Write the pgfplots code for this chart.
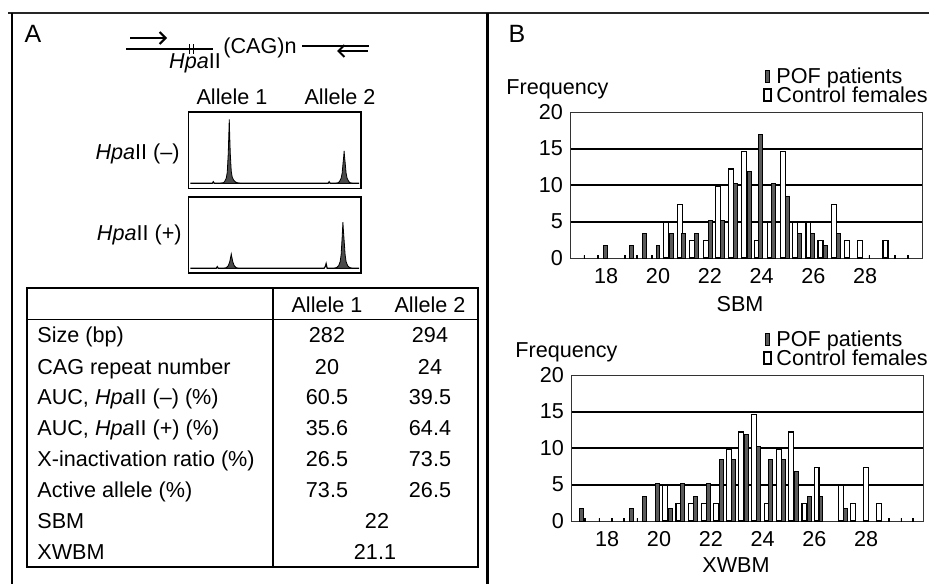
\documentclass[border=0pt]{standalone}
\usepackage{fontspec}
\setmainfont{Liberation Sans}
\usepackage{pgfplots}
\pgfplotsset{compat=1.18}
\usetikzlibrary{arrows.meta}
\definecolor{cBar}{HTML}{5A5A5A}
\definecolor{cPeak}{HTML}{4A4A4A}
\newcommand\fs{\fontsize{10.8}{12}\selectfont}

\tikzset{t/.style={font=\fs, inner sep=0pt}}
\pgfplotsset{
  histo/.style={scale only axis, width=176pt, height=73pt,
    xmin=16.6, xmax=30.2, ymin=0, ymax=20,
    xtick={18,20,...,28}, ytick={5,10,15},
    extra y ticks={0,20}, extra y tick style={grid=none},
    ymajorgrids, grid style={black, line width=1pt},
    major tick length=0pt, axis line style={black!80, line width=0.5pt},
    tick label style={font=\fs}, /pgf/number format/assume math mode=true,
    xticklabel style={yshift=-1.5pt}},
  ctrl/.style={ybar, bar shift=0pt, bar width=0.19, fill=white, draw=black, line width=0.6pt},
  pof/.style={ybar, bar shift=0pt, bar width=0.15, fill=cBar, draw=black, line width=0.5pt},
  stub/.style={ybar, bar shift=0pt, bar width=0.03, fill=black, draw=black, line width=0.3pt},
  trace/.style={scale only axis, width=86.4pt, height=38pt,
    xmin=0, xmax=173, ymin=0, ymax=76, ticks=none, axis line style={line width=0.8pt}},
}

\begin{document}
\begin{tikzpicture}[x=0.5pt, y=-0.5pt]
\useasboundingbox (0,0) rectangle (929,584);
\coordinate (tr1) at (188.3,188.3);
\coordinate (tr2) at (188.3,272.7);
\coordinate (h1) at (570,258);
\coordinate (h2) at (571,521);

% panel frames
\draw[line width=1.2pt, black!85] (8,13) -- (929,13);
\draw[line width=1.1pt] (12,13) -- (12,584);
\draw[line width=1.5pt] (487,13) -- (487,584);
\node[font=\fontsize{12.5}{14}\selectfont, inner sep=0pt, anchor=base] at (33,42) {A};
\node[font=\fontsize{12.5}{14}\selectfont, inner sep=0pt, anchor=base] at (517,42) {B};

% primer diagram
\draw[line width=0.7pt] (126,49) -- (213,49);
\draw[line width=0.7pt] (302,46) -- (369,46);
\draw[line width=1pt, -{Straight Barb[length=3pt]}] (130,38) -- (167,38);
\draw[line width=1pt, -{Straight Barb[length=3pt]}] (368,51) -- (337,51);
\draw[line width=0.8pt] (189.5,44) -- (189.5,54) (193.5,44) -- (193.5,54);
\node[t, anchor=base] at (195,68) {\textit{Hpa}II};
\node[t, anchor=base west] at (223,53) {(CAG)n};

% electropherograms
\node[t, anchor=base] at (232,104.5) {Allele 1};
\node[t, anchor=base] at (340,104.5) {Allele 2};
\node[t, anchor=base east] at (180,159) {\textit{Hpa}II (--)};
\node[t, anchor=base east] at (182,240.5) {\textit{Hpa}II (+)};

\begin{axis}[trace, at={(tr1)}, anchor=south west]
\addplot[black, line width=0.6pt] coordinates {(2,5)(24,5)(25,6.5)(26,5)(140,5)(141,6.5)(142,5)(171,5)};
\addplot[fill=cPeak, draw=black, line width=0.4pt] coordinates {
  (32,5)(35,5.5)(36.5,7)(38,10)(39,16)(40,35)(40.7,58)(41,69)(41.3,58)(42,35)(43,17)(44,11)(45.5,8)(47,6.5)(49,5.5)(52,5)} -- cycle;
\addplot[fill=cPeak, draw=black, line width=0.4pt] coordinates {
  (148,5)(150,5.5)(151.5,7)(153,10)(154,15)(155,26)(155.7,33)(156,37.5)(156.3,33)(157,26)(158,15)(159,10)(160.5,7)(162,5.5)(164,5)} -- cycle;
\end{axis}

\begin{axis}[trace, at={(tr2)}, anchor=south west]
\addplot[black, line width=0.6pt] coordinates {(2,4.4)(28,4.4)(29,6)(30,4.4)(136,4.4)(137,6)(138,9)(139,4.4)(171,4.4)};
\addplot[fill=cPeak, draw=black, line width=0.4pt] coordinates {
  (36,4.4)(38,5)(40,7)(41.5,11)(42.5,16)(43,18.7)(43.5,16)(44.5,11)(46,7)(48,5)(50,4.4)} -- cycle;
\addplot[fill=cPeak, draw=black, line width=0.4pt] coordinates {
  (146,4.4)(148.5,5.2)(150.5,7)(152,11)(153,18)(154,35)(154.5,45)(154.8,50.5)(155.1,45)(155.8,35)(157,18)(158,11)(159.5,7)(161.5,5.2)(164,4.4)} -- cycle;
\end{axis}

% table
\draw[line width=0.8pt] (27,288) rectangle (478,567);
\draw[line width=0.8pt] (27,319.5) -- (478,319.5);
\draw[line width=0.8pt] (272.7,288) -- (272.7,567);
\node[t, anchor=base] at (327,312.5) {Allele 1};
\node[t, anchor=base] at (430,312.5) {Allele 2};
\foreach \y/\lab/\a/\b in {342.5/Size (bp)/282/294, 374.2/CAG repeat number/20/24,
    404.8/{AUC, \textit{Hpa}II (--) (\%)}/60.5/39.5, 435.2/{AUC, \textit{Hpa}II (+) (\%)}/35.6/64.4,
    466.5/X-inactivation ratio (\%)/26.5/73.5, 497.5/Active allele (\%)/73.5/26.5} {
  \node[t, anchor=base west] at (37,\y) {\lab};
  \node[t, anchor=base] at (327,\y) {\a};
  \node[t, anchor=base] at (430,\y) {\b};
}
\node[t, anchor=base west] at (37,528.2) {SBM};
\node[t, anchor=base] at (377,528.2) {22};
\node[t, anchor=base west] at (37,559.2) {XWBM};
\node[t, anchor=base] at (375,559.2) {21.1};

% ---- SBM histogram ----
\node[t, anchor=base west] at (506,94) {Frequency};
\draw[line width=0.5pt, fill=cBar] (765,70) rectangle (769,82);
\node[t, anchor=base west] at (776,83) {POF patients};
\draw[line width=0.6pt] (764,89) rectangle (771,101);
\node[t, anchor=base west] at (776,102) {Control females};
\node[t, anchor=base] at (740,311) {SBM};

\begin{axis}[histo, at={(h1)}, anchor=south west]
\addplot[stub] coordinates {(17.15,0.35)(17.67,0.35)(18.73,0.35)(19.18,0.35)(19.76,0.35)(28.16,0.35)(29.15,0.35)(29.65,0.35)};
\addplot[ctrl] coordinates {(20.3,4.88)(20.84,7.32)(21.32,2.44)(21.85,2.44)(22.31,9.76)(22.82,12.2)(23.33,14.63)(23.82,2.44)(24.31,4.88)(24.82,14.63)(25.3,4.88)(25.81,4.88)(26.28,2.44)(26.79,7.32)(27.3,2.44)(27.81,2.44)(28.79,2.44)};
\addplot[pof] coordinates {(17.98,1.69)(18.97,1.69)(19.47,3.39)(20.0,1.69)(20.52,3.39)(21.0,3.39)(21.5,3.39)(22.02,5.08)(22.5,5.08)(23.01,10.17)(23.52,11.86)(23.97,16.95)(24.47,10.17)(25.0,8.47)(25.48,3.39)(25.96,3.39)(26.47,1.69)(26.98,3.39)};
\end{axis}

% ---- XWBM histogram ----
\node[t, anchor=base west] at (515,357) {Frequency};
\draw[line width=0.5pt, fill=cBar] (765,333) rectangle (769,345);
\node[t, anchor=base west] at (776,346) {POF patients};
\draw[line width=0.6pt] (764,352) rectangle (771,364);
\node[t, anchor=base west] at (776,365) {Control females};
\node[t, anchor=base] at (736,572) {XWBM};

\begin{axis}[histo, at={(h2)}, anchor=south west]
\addplot[stub] coordinates {(17.14,0.35)(17.69,0.35)(18.18,0.35)(18.65,0.35)(19.16,0.35)(28.89,0.35)(29.36,0.35)(29.82,0.35)};
\addplot[ctrl] coordinates {(20.24,4.88)(20.75,2.44)(21.23,2.44)(21.74,2.44)(22.21,2.44)(22.7,9.76)(23.16,12.2)(23.67,14.63)(24.16,2.44)(24.63,9.76)(25.11,12.2)(25.62,2.44)(26.09,7.32)(27.03,4.88)(27.5,2.44)(28.0,7.32)(28.5,2.44)};
\addplot[pof] coordinates {(17.0,1.69)(18.93,1.69)(19.45,3.39)(19.95,5.08)(20.43,1.69)(20.91,5.08)(21.42,3.39)(21.92,5.08)(22.4,8.47)(22.87,8.47)(23.38,11.86)(23.86,10.17)(24.31,8.47)(24.82,8.47)(25.3,6.78)(25.8,3.39)(26.26,3.39)(27.2,1.69)};
\end{axis}
\end{tikzpicture}
\end{document}
